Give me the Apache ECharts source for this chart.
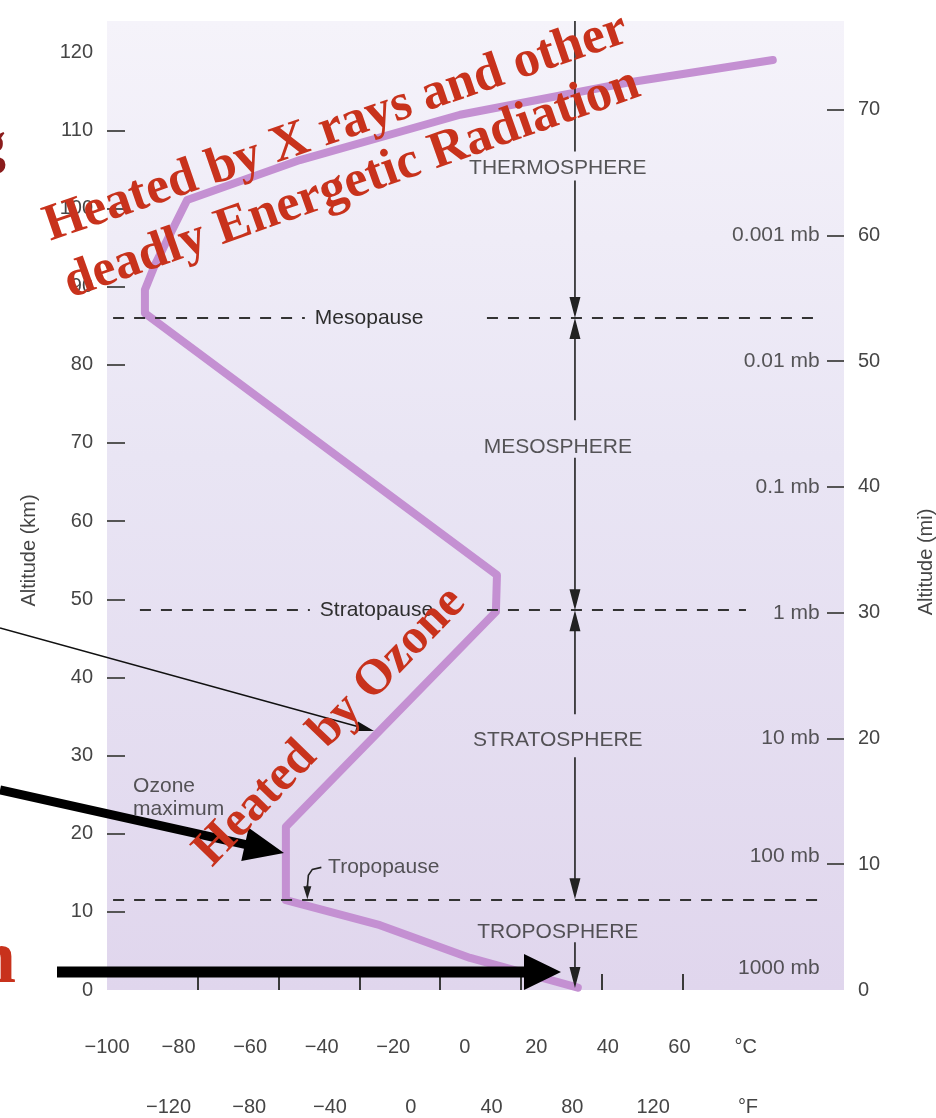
<!DOCTYPE html>
<html>
<head>
<meta charset="utf-8">
<script src="https://cdn.jsdelivr.net/npm/echarts@6.0.0/dist/echarts.min.js"></script>
<style>
html, body { margin: 0; padding: 0; background: #fff; }
#chart { width: 936px; height: 1118px; }
</style>
</head>
<body>
<div id="chart"></div>
<script>
// Temperature profile of the atmosphere (°C against altitude in km)
var profileTemp = [31.6, 1.5, -23.7, -50.0, -50.0, 8.7, 9.0, -89.4, -89.4, -86.6, -77.6, -46.1, -1.3, 45.3, 86.1];
var profileAlt  = [0.3, 4.1, 8.3, 11.5, 20.9, 48.4, 53.1, 86.6, 89.6, 92.8, 101.1, 106.2, 112.0, 116.1, 119.0];

// Axis ticks and labels
var kmLabels = [0, 10, 20, 30, 40, 50, 60, 70, 80, 90, 100, 110, 120];
var kmTicks = [10, 20, 30, 40, 50, 60, 70, 80, 90, 100, 110];
var miLabels = [0, 10, 20, 30, 40, 50, 60, 70];
var miTicks = [10, 20, 30, 40, 50, 60, 70];
var celsiusLabels = [-100, -80, -60, -40, -20, 0, 20, 40, 60];
var fahrenheitLabels = [-120, -80, -40, 0, 40, 80, 120];
var fahrenheitTicks = [-100, -60, -20, 20, 60, 100, 140];

// Boundaries between layers (km)
var pauseNames = ['Tropopause', 'Stratopause', 'Mesopause'];
var pauseAlt = [11.6, 48.6, 86.0];

// Layer names (km)
var layerNames = ['TROPOSPHERE', 'STRATOSPHERE', 'MESOSPHERE', 'THERMOSPHERE'];
var layerAlt = [7.4, 32.0, 69.5, 105.2];

// Pressure levels (miles)
var pressureNames = ['1000 mb', '100 mb', '10 mb', '1 mb', '0.1 mb', '0.01 mb', '0.001 mb'];
var pressureMiles = [1.7, 10.6, 20, 30, 40, 50, 60];

var KM_MAX = 124;
var KM_PER_MI = 1.609344;
var LAYER_T = 26;     // x (°C) of the layer names
var ARROW_T = 30.8;   // x (°C) of the layer arrows
var PRESS_T = 99.2;   // x (°C) where pressure labels end

var fontSans = '"Liberation Sans", Arial, sans-serif';
var fontSerif = '"Liberation Serif", "Times New Roman", serif';
var inkColor = '#2e2e2e';
var axisColor = '#454545';

function minus(v) {
    return String(v).replace('-', '\u2212');
}

var chart_element = document.getElementById('chart');
var chart = echarts.init(chart_element, null, { renderer: 'canvas' });

var profileData = profileTemp.map(function (t, i) { return [t, profileAlt[i]]; });

// dashed boundary lines, pieces in °C
var pauseLines = [
    [{ coord: [-98.3, pauseAlt[0]] }, { coord: [99.2, pauseAlt[0]] }],
    [{ coord: [-90.8, pauseAlt[1]], label: { show: true, formatter: pauseNames[1] } }, { coord: [-43.3, pauseAlt[1]] }],
    [{ coord: [6.2, pauseAlt[1]] }, { coord: [78.6, pauseAlt[1]] }],
    [{ coord: [-98.3, pauseAlt[2]], label: { show: true, formatter: pauseNames[2] } }, { coord: [-44.7, pauseAlt[2]] }],
    [{ coord: [6.2, pauseAlt[2]] }, { coord: [99.2, pauseAlt[2]] }]
];

chart.setOption({
    animation: false,
    textStyle: { fontFamily: fontSans },

    grid: {
        left: 107, right: 92, top: 21, bottom: 128,
        outerBoundsMode: 'none',
        containLabel: false,
        show: true,
        borderWidth: 0,
        backgroundColor: {
            type: 'linear', x: 0, y: 0, x2: 0, y2: 1,
            colorStops: [
                { offset: 0, color: '#f5f3fa' },
                { offset: 0.45, color: '#e9e5f4' },
                { offset: 1, color: '#e0d6ed' }
            ]
        }
    },

    // Temperature axes
    xAxis: [{
        type: 'value',
        min: -100,
        max: 106,
        position: 'bottom',
        axisLine: { show: false, onZero: false },
        axisTick: { show: false },
        splitLine: { show: false },
        axisLabel: {
            customValues: celsiusLabels.concat([78.5]),
            margin: 47,
            fontSize: 20,
            color: axisColor,
            formatter: function (v) { return v > 70 ? '°C' : minus(v); }
        }
    }, {
        type: 'value',
        min: -145,
        max: 220,
        position: 'bottom',
        axisLine: { show: false, onZero: false },
        splitLine: { show: false },
        axisTick: {
            show: true,
            inside: true,
            length: 16,
            customValues: fahrenheitTicks,
            lineStyle: { color: '#3a3a3a', width: 2 }
        },
        axisLabel: {
            customValues: fahrenheitLabels.concat([167]),
            margin: 107,
            padding: [0, 0, 0, 22],
            fontSize: 20,
            color: axisColor,
            formatter: function (v) { return v > 150 ? '°F' : minus(v); }
        }
    }],

    // Altitude axes
    yAxis: [{
        type: 'value',
        min: 0,
        max: KM_MAX,
        position: 'left',
        name: 'Altitude (km)',
        nameLocation: 'middle',
        nameGap: 68,
        nameTextStyle: { fontSize: 20, color: axisColor, padding: [0, 90, 0, 0] },
        axisLine: { show: false, onZero: false },
        splitLine: { show: false },
        axisTick: {
            show: true, inside: true, length: 18,
            customValues: kmTicks,
            lineStyle: { color: '#555', width: 2 }
        },
        axisLabel: {
            customValues: kmLabels,
            margin: 14,
            fontSize: 20,
            color: axisColor
        }
    }, {
        type: 'value',
        min: 0,
        max: KM_MAX / KM_PER_MI,
        position: 'right',
        name: 'Altitude (mi)',
        nameLocation: 'middle',
        nameGap: 72,
        nameTextStyle: { fontSize: 20, color: axisColor, padding: [0, 113, 0, 0] },
        axisLine: { show: false, onZero: false },
        splitLine: { show: false },
        axisTick: {
            show: true, inside: true, length: 17,
            customValues: miTicks,
            lineStyle: { color: '#555', width: 2 }
        },
        axisLabel: {
            customValues: miLabels,
            margin: 14,
            fontSize: 20,
            color: axisColor
        }
    }],

    series: [{
        name: 'Temperature',
        type: 'line',
        data: profileData,
        showSymbol: false,
        symbol: 'none',
        clip: false,
        z: 3,
        lineStyle: { color: '#c490d2', width: 8, join: 'round', cap: 'round' },
        markLine: {
            silent: true,
            symbol: ['none', 'none'],
            animation: false,
            lineStyle: { color: '#333', width: 2, type: [11, 10] },
            label: {
                show: false,
                position: 'end',
                distance: 10,
                fontSize: 21,
                color: inkColor,
                fontFamily: fontSans
            },
            emphasis: { disabled: true },
            data: pauseLines
        }
    }, {
        name: 'Layers',
        type: 'scatter',
        symbolSize: 0,
        silent: true,
        z: 5,
        data: layerAlt.map(function (a, i) { return { name: layerNames[i], value: [LAYER_T, a] }; }),
        label: { show: true, position: 'inside', formatter: '{b}', fontSize: 21, color: inkColor }
    }, {
        name: 'Pressure',
        type: 'scatter',
        yAxisIndex: 1,
        symbolSize: 0,
        silent: true,
        z: 5,
        data: pressureMiles.map(function (m, i) { return { name: pressureNames[i], value: [PRESS_T, m] }; }),
        label: { show: true, position: 'left', distance: 0, formatter: '{b}', fontSize: 21, color: inkColor }
    }, {
        name: 'Notes',
        type: 'scatter',
        symbolSize: 0,
        silent: true,
        z: 5,
        data: [
            { name: pauseNames[0], value: [-38.2, 15.7] },
            { name: 'Ozone\nmaximum', value: [-92.7, 24.6] }
        ],
        label: {
            show: true, position: 'right', distance: 0, formatter: '{b}',
            fontSize: 21, lineHeight: 23, color: inkColor, align: 'left'
        }
    }]
});

//
// Annotations: layer arrows, pointer arrows and overlaid red text
//

function arrowShape(x1, y1, x2, y2, shaft, headLen, headW) {
    var dx = x2 - x1, dy = y2 - y1;
    var L = Math.sqrt(dx * dx + dy * dy);
    var ux = dx / L, uy = dy / L, nx = -uy, ny = ux;
    var bx = x2 - ux * headLen, by = y2 - uy * headLen;
    return [
        [x1 + nx * shaft / 2, y1 + ny * shaft / 2],
        [bx + nx * shaft / 2, by + ny * shaft / 2],
        [bx + nx * headW / 2, by + ny * headW / 2],
        [x2, y2],
        [bx - nx * headW / 2, by - ny * headW / 2],
        [bx - nx * shaft / 2, by - ny * shaft / 2],
        [x1 - nx * shaft / 2, y1 - ny * shaft / 2]
    ];
}

function px(t, km) {
    return chart.convertToPixel({ gridIndex: 0 }, [t, km]);
}

// layer arrows: [from km, to km, head]
var layerArrows = [
    [KM_MAX, 107.3, false],
    [103.6, pauseAlt[2], true],
    [72.9, pauseAlt[2], true],
    [68.1, pauseAlt[1], true],
    [35.3, pauseAlt[1], true],
    [29.8, pauseAlt[0], true],
    [6.1, 0.25, true]
];

var graphics = [];
layerArrows.forEach(function (a) {
    var p1 = px(ARROW_T, a[0]), p2 = px(ARROW_T, a[1]);
    if (a[2]) {
        graphics.push({ type: 'polygon', z: 90, shape: { points: arrowShape(p1[0], p1[1], p2[0], p2[1], 1.6, 21, 11) }, style: { fill: '#222' } });
    } else {
        graphics.push({ type: 'line', z: 90, shape: { x1: p1[0], y1: p1[1], x2: p2[0], y2: p2[1] }, style: { stroke: '#222', lineWidth: 1.6 } });
    }
});

// tropopause hook arrow
var hookTip = px(-44.0, pauseAlt[0]);
graphics.push({
    type: 'polyline', z: 90,
    shape: { points: [[hookTip[0] + 14, hookTip[1] - 32], [hookTip[0] + 5, hookTip[1] - 30], [hookTip[0] + 1, hookTip[1] - 24], [hookTip[0], hookTip[1] - 12]] },
    style: { stroke: '#222', lineWidth: 1.6, fill: null }
});
graphics.push({
    type: 'polygon', z: 90,
    shape: { points: arrowShape(hookTip[0], hookTip[1] - 14, hookTip[0], hookTip[1], 1.6, 13, 8) },
    style: { fill: '#222' }
});

// pointer arrows drawn over the figure
graphics.push({ type: 'polygon', z: 95, shape: { points: arrowShape(0, 628, 374, 731, 1.5, 18, 10) }, style: { fill: '#111' } });
graphics.push({ type: 'polygon', z: 95, shape: { points: arrowShape(0, 790, 284, 853, 9, 40, 34) }, style: { fill: '#000' } });
graphics.push({ type: 'polygon', z: 95, shape: { points: arrowShape(57, 972, 561, 972, 11, 37, 36) }, style: { fill: '#000' } });

// red overlaid captions
var red = '#c8321c';
function redText(x, y, deg, text, size, color) {
    return {
        type: 'text', z: 100, x: x, y: y, rotation: deg * Math.PI / 180,
        style: {
            text: text, fill: color || red,
            font: 'bold ' + size + 'px ' + fontSerif,
            align: 'center', verticalAlign: 'middle',
            textAlign: 'center', textVerticalAlign: 'middle'
        }
    };
}
graphics.push(redText(336, 128, 19, 'Heated by X rays and other', 52));
graphics.push(redText(352, 184, 19.5, 'deadly Energetic Radiation', 52));
graphics.push(redText(330, 727, 46, 'Heated by Ozone', 50));
graphics.push({
    type: 'text', z: 100, x: 16, y: 962,
    style: { text: 'n', fill: red, font: 'bold 76px ' + fontSerif, align: 'right', verticalAlign: 'middle', textAlign: 'right', textVerticalAlign: 'middle' }
});
graphics.push({
    type: 'text', z: 100, x: 6, y: 146,
    style: { text: 'g', fill: '#8a1c1c', font: 'bold 60px ' + fontSerif, align: 'right', verticalAlign: 'middle', textAlign: 'right', textVerticalAlign: 'middle' }
});

chart.setOption({ graphic: graphics });

// Resize
window.addEventListener('resize', function () {
    chart.resize();
});
</script>
</body>
</html>
